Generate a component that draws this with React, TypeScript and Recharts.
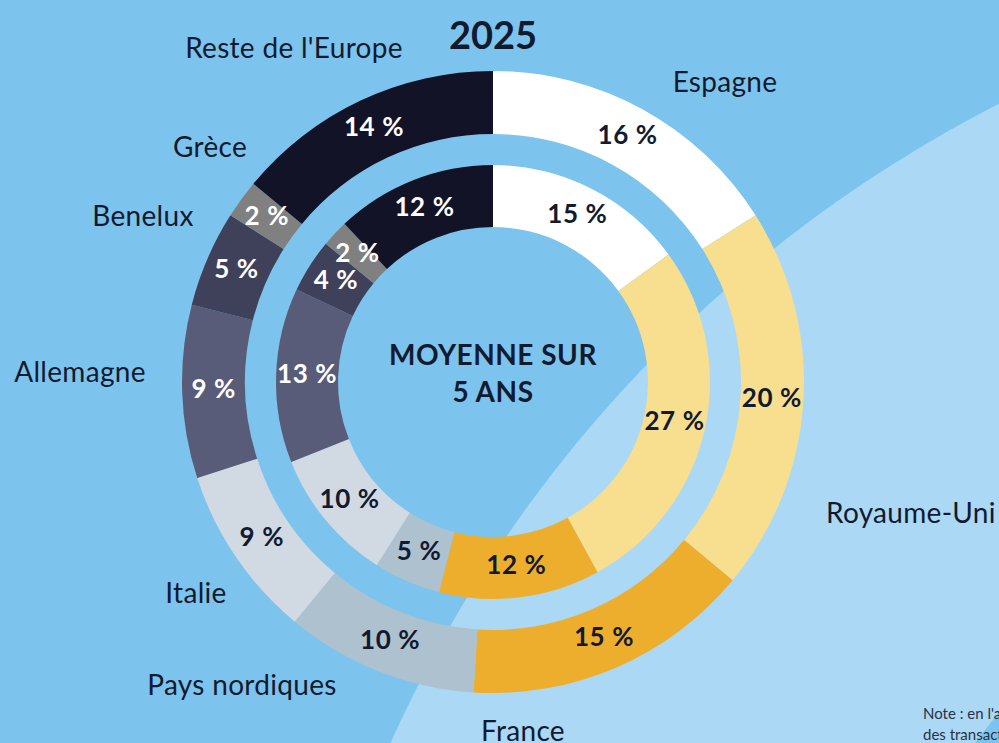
import { PieChart, Pie, Cell } from "recharts";

const categories = [
  "Espagne",
  "Royaume-Uni",
  "France",
  "Pays nordiques",
  "Italie",
  "Allemagne",
  "Benelux",
  "Grèce",
  "Reste de l'Europe",
];
const share2025 = [16, 20, 15, 10, 9, 9, 5, 2, 14];
const shareFiveYears = [15, 27, 12, 5, 10, 13, 4, 2, 12];

const COLORS = [
  "#ffffff",
  "#f8de8f",
  "#edae2d",
  "#adc1cf",
  "#d1d9e3",
  "#595c78",
  "#3f4059",
  "#808080",
  "#121327",
];
// segments where the percentage is written in white
const DARK = [false, false, false, false, false, true, true, true, true];

// where each country name sits, relative to the pie centre (x = text centre, y = baseline)
const NAME_POS = [
  { dx: 232, dy: -290, anchor: "middle" },
  { dx: 333, dy: 141, anchor: "start" },
  { dx: 30, dy: 359, anchor: "middle" },
  { dx: -251, dy: 313, anchor: "middle" },
  { dx: -297, dy: 221, anchor: "middle" },
  { dx: -413, dy: 0, anchor: "middle" },
  { dx: -350, dy: -156, anchor: "middle" },
  { dx: -283, dy: -225, anchor: "middle" },
  { dx: -199, dy: -324, anchor: "middle" },
];

const outerData = categories.map((name, i) => ({ name, value: share2025[i] }));
const innerData = categories.map((name, i) => ({ name, value: shareFiveYears[i] }));

const FONT = "Lato, 'Open Sans', sans-serif";
const INK = "#121a2f";
const RAD = Math.PI / 180;

// eslint-disable-next-line @typescript-eslint/no-explicit-any
const pctLabel = (props: any) => {
  const { cx, cy, midAngle, innerRadius, outerRadius, index, value } = props;
  const r = (innerRadius + outerRadius) / 2;
  const x = cx + r * Math.cos(-midAngle * RAD);
  const y = cy + r * Math.sin(-midAngle * RAD) - 3;
  return (
    <text
      x={x}
      y={y}
      textAnchor="middle"
      dominantBaseline="central"
      fill={DARK[index] ? "#ffffff" : INK}
      fontSize={26}
      fontWeight={700}
      letterSpacing={0.6}
      fontFamily={FONT}
    >
      {`${value} %`}
    </text>
  );
};

// eslint-disable-next-line @typescript-eslint/no-explicit-any
const outerLabel = (props: any) => {
  const { cx, cy, index } = props;
  const pos = NAME_POS[index];
  return (
    <g>
      {pctLabel(props)}
      <text
        x={cx + pos.dx}
        y={cy + pos.dy}
        textAnchor={pos.anchor}
        fill={INK}
        fontSize={28}
        letterSpacing={0.3}
        fontFamily={FONT}
      >
        {categories[index]}
      </text>
    </g>
  );
};

const App = () => {
  return (
    <div
      style={{
        position: "relative",
        width: 999,
        height: 743,
        overflow: "hidden",
        background: "#7cc4ed",
        fontFamily: FONT,
      }}
    >
      <style>{"body{margin:0}"}</style>
      {/* lighter decorative disc in the background */}
      <svg
        width={999}
        height={743}
        style={{ position: "absolute", left: 0, top: 0 }}
      >
        <circle cx={1602} cy={1287} r={1328} fill="#abd8f5" />
        <polygon points="999,712 999,743 975,743" fill="#7cc4ed" />
      </svg>

      <div style={{ position: "absolute", left: 0, top: 0 }}>
        <PieChart width={999} height={743} margin={{ top: 0, right: 0, bottom: 0, left: 0 }}>
          <Pie
            data={outerData}
            dataKey="value"
            nameKey="name"
            cx={493}
            cy={382}
            innerRadius={248}
            outerRadius={311}
            startAngle={90}
            endAngle={-270}
            stroke="none"
            labelLine={false}
            label={outerLabel}
            isAnimationActive={false}
          >
            {outerData.map((_, i) => (
              <Cell key={`o-${i}`} fill={COLORS[i]} />
            ))}
          </Pie>
          <Pie
            data={innerData}
            dataKey="value"
            nameKey="name"
            cx={493}
            cy={382}
            innerRadius={155}
            outerRadius={217}
            startAngle={90}
            endAngle={-270}
            stroke="none"
            labelLine={false}
            label={pctLabel}
            isAnimationActive={false}
          >
            {innerData.map((_, i) => (
              <Cell key={`i-${i}`} fill={COLORS[i]} />
            ))}
          </Pie>
          <text
            x={493}
            y={49}
            textAnchor="middle"
            fill={INK}
            fontSize={38}
            fontWeight={700}
            fontFamily={FONT}
          >
            2025
          </text>
          <text
            x={493}
            y={365}
            textAnchor="middle"
            fill={INK}
            fontSize={28}
            fontWeight={700}
            letterSpacing={0.5}
            fontFamily={FONT}
          >
            MOYENNE SUR
          </text>
          <text
            x={493}
            y={402}
            textAnchor="middle"
            fill={INK}
            fontSize={28}
            fontWeight={700}
            letterSpacing={0.5}
            fontFamily={FONT}
          >
            5 ANS
          </text>
        </PieChart>
      </div>

      <div
        style={{
          position: "absolute",
          left: 923,
          top: 703,
          fontSize: 15,
          lineHeight: "21px",
          color: "#2a3145",
          whiteSpace: "nowrap",
        }}
      >
        Note : en l'absence de données,
        <br />
        des transactions
      </div>
    </div>
  );
};

export default App;
